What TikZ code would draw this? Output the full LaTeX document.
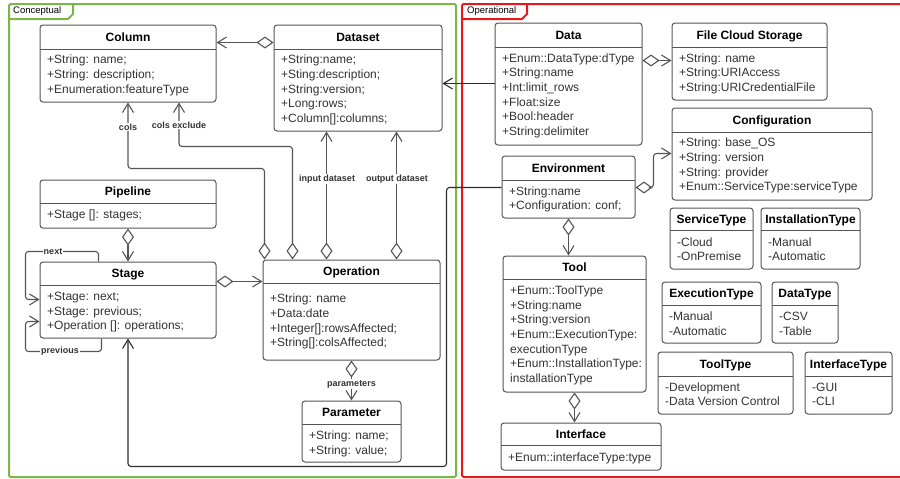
\documentclass[tikz,border=0pt]{standalone}
\usepackage{fontspec}
\setmainfont{Liberation Sans}
\usetikzlibrary{arrows.meta}
\definecolor{lgreen}{RGB}{122,182,72}
\definecolor{lred}{RGB}{232,24,24}
\definecolor{ink}{RGB}{51,51,51}
\definecolor{edge}{RGB}{85,85,85}
\definecolor{dark}{RGB}{45,45,45}
\tikzset{
  cls/.style={draw=edge, fill=white, rounded corners=3pt, line width=1pt, inner sep=0pt},
  ttl/.style={font=\bfseries\fontsize{12}{14}\selectfont, text=black, anchor=base, inner sep=0pt},
  attr/.style={font=\fontsize{12}{14}\selectfont, text=ink, anchor=base west, inner sep=0pt},
  sepline/.style={draw=edge, line width=1pt},
  conn/.style={draw=edge, line width=1.1pt, rounded corners=3pt},
  agg/.style={conn, arrows={Diamond[open,length=17pt,width=12pt]-Straight Barb[length=9pt,width=11pt]}},
  assoc/.style={conn, arrows={-Straight Barb[length=9pt,width=11pt]}},
  lbl/.style={font=\bfseries\fontsize{9}{10}\selectfont, text=ink, fill=white, inner sep=1pt},
  frametxt/.style={font=\fontsize{9.5}{11}\selectfont, text=black, anchor=base west, inner sep=0pt},
}
% #1 name, #2 x1, #3 y1, #4 x2, #5 y2, #6 separator y, #7 title, #8 first baseline, #9 lines
\newcommand{\umlbox}[9]{%
  \node[cls, minimum width={#4-#2}, minimum height={#5-#3}] (#1) at ({(#2+#4)/2},{(#3+#5)/2}) {};
  \draw[sepline] (#2,#6) -- (#4,#6);
  \node[ttl] (#1-title) at ({(#2+#4)/2},{(#3+#6)/2+4.3}) {#7};
  \foreach \t [count=\i] in {#9} {
    \node[attr] (#1-l\i) at ({#2+7},{#8+(\i-1)*14.7}) {\t};
  }
}
\begin{document}
\begin{tikzpicture}[x=1pt,y=-1pt]
\fill[white] (0,0) rectangle (900,479);
\useasboundingbox (0,0) rectangle (900,479);

% frames
\draw[lgreen, line width=2pt, rounded corners=1.5pt] (9,4) rectangle (456,477);
\draw[lgreen, line width=2pt, line join=round] (9,19) -- (68,19) -- (73,14) -- (73,4);
\node[frametxt] (tabc) at (13,13.5) {Conceptual};
\draw[lred, line width=2pt, rounded corners=1.5pt] (462,4) rectangle (905,477);
\draw[lred, line width=2pt, line join=round] (462,19) -- (522,19) -- (527,14) -- (527,4);
\node[frametxt] (tabo) at (467,13.5) {Operational};

% conceptual classes
\umlbox{column}{40}{25}{216}{102}{49}{Column}{63.6}{{+String: name;},{+String: description;},{+Enumeration:featureType}}
\umlbox{dataset}{274}{25}{442}{131}{49}{Dataset}{63.6}{{+String:name;},{+Sting:description;},{+String:version;},{+Long:rows;},{+Column[]:columns;}}
\umlbox{pipeline}{40}{180}{216}{228}{203}{Pipeline}{218}{{+Stage []: stages;}}
\umlbox{stage}{40}{262}{216}{338}{285}{Stage}{300.3}{{+Stage: next;},{+Stage: previous;},{+Operation []: operations;}}
\umlbox{operation}{263}{260}{440}{360}{283}{Operation}{302.6}{{+String: name},{+Data:date},{+Integer[]:rowsAffected;},{+String[]:colsAffected;}}
\umlbox{parameter}{302}{401}{401}{462}{424}{Parameter}{439.3}{{+String: name;},{+String: value;}}

% operational classes
\umlbox{data}{495}{23}{642}{145}{47}{Data}{62}{{+Enum::DataType:dType},{+String:name},{+Int:limit\_rows},{+Float:size},{+Bool:header},{+String:delimiter}}
\umlbox{fcs}{672}{23}{827}{100}{47}{File Cloud Storage}{62}{{+String: name},{+String:URIAccess},{+String:URICredentialFile}}
\umlbox{configuration}{672}{108}{872}{200}{132}{Configuration}{146.6}{{+String: base\_OS},{+String: version},{+String: provider},{+Enum::ServiceType:serviceType}}
\umlbox{environment}{502}{156}{635}{218}{180}{Environment}{195}{{+String:name},{+Configuration: conf;}}
\umlbox{tool}{503}{256}{646}{392}{279}{Tool}{294.3}{{+Enum::ToolType},{+String:name},{+String:version},{+Enum::ExecutionType:},{executionType},{+Enum::InstallationType:},{installationType}}
\umlbox{interface}{501}{423}{661}{470}{445}{Interface}{461.6}{{+Enum::interfaceType:type}}
\umlbox{servicetype}{670}{208}{753}{269}{230}{ServiceType}{246}{{-Cloud},{-OnPremise}}
\umlbox{installationtype}{761}{208}{860}{269}{230}{InstallationType}{246}{{-Manual},{-Automatic}}
\umlbox{executiontype}{662}{282}{761}{343}{305}{ExecutionType}{320.3}{{-Manual},{-Automatic}}
\umlbox{datatype}{772}{282}{838}{343}{305}{DataType}{320.3}{{-CSV},{-Table}}
\umlbox{tooltype}{658}{352}{793}{414}{376}{ToolType}{391}{{-Development},{-Data Version Control}}
\umlbox{interfacetype}{805}{352}{892}{414}{376}{InterfaceType}{391}{{-GUI},{-CLI}}

% conceptual connectors
\draw[agg] ([yshift=-18pt]dataset.north west) -- ([yshift=-18pt]column.north east);
\draw[agg] ([xshift=2pt]operation.north west) -- ++(0,-91) -| (column.south);
\draw[agg] ([xshift=30pt]operation.north west) -- ++(0,-113) -| ([xshift=51pt]column.south);
\draw[agg] ([xshift=64pt]operation.north west) -- ([xshift=64pt]operation.north west |- dataset.south);
\draw[agg] ([xshift=134pt]operation.north west) -- ([xshift=134pt]operation.north west |- dataset.south);
\draw[agg] ([yshift=-20pt]stage.north east) -- ([yshift=-20pt]stage.north east -| operation.west);
\draw[agg] (pipeline.south) -- (stage.north);
\draw[assoc] ([xshift=59pt]stage.north west) -- ++(0,-10) -- ++(-73,0) |- ([yshift=-38pt]stage.north west);
\draw[assoc] ([xshift=62pt]stage.south west) -- ++(0,13) -- ++(-76,0) |- ([yshift=-60pt]stage.north west);
\draw[agg] (operation.south) -- (parameter.north);

% operational connectors
\draw[assoc, draw=dark] ([yshift=-61pt]data.north west) -- ([yshift=-61pt]data.north west -| dataset.east);
\draw[assoc, draw=dark] ([yshift=-32pt]environment.north west) -- ++(-55,0) -- ++(0,279) -| (stage.south);
\draw[agg] ([yshift=-38pt]data.north east) -- ([yshift=-38pt]data.north east -| fcs.west);
\draw[agg] ([yshift=-32pt]environment.north east) -- ++(18,0) |- ([yshift=-46pt]configuration.north west);
\draw[agg] (environment.south) -- (environment.south |- tool.north);
\draw[agg] (tool.south) -- (tool.south |- interface.north);

% labels
\node[lbl] (lcols) at (128,127) {cols};
\node[lbl] (lcolsx) at (179,125) {cols exclude};
\node[lbl] (lin) at (327,179) {input dataset};
\node[lbl] (lout) at (397,179) {output dataset};
\node[lbl] (lnext) at (53,252) {next};
\node[lbl] (lprev) at (60,351) {previous};
\node[lbl] (lpar) at (351.5,384) {parameters};
\end{tikzpicture}
\end{document}
